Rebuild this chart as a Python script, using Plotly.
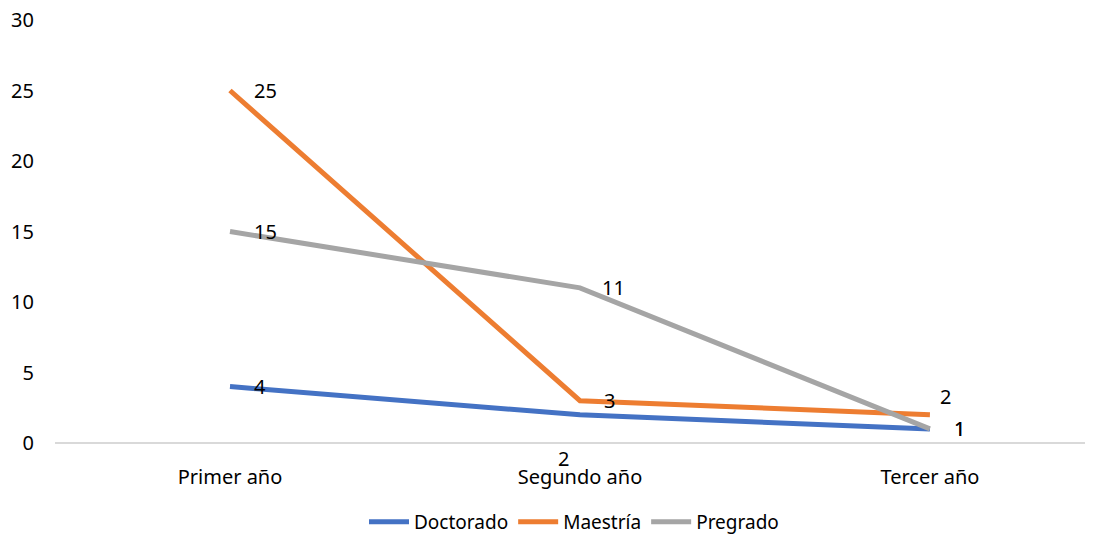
import plotly.graph_objects as go

# Data
categorias = ["Primer año", "Segundo año", "Tercer año"]
doctorado = [4, 2, 1]
maestria = [25, 3, 2]
pregrado = [15, 11, 1]
y_ticks = [0, 5, 10, 15, 20, 25, 30]

series = [
    ("Doctorado", doctorado, "#4472C4"),
    ("Maestría", maestria, "#ED7D31"),
    ("Pregrado", pregrado, "#A5A5A5"),
]

# label offsets (px) per point, Excel-like placement
offsets = {
    "Doctorado": [(22, 0), (-24, -44), (22, 0)],
    "Maestría": [(22, 0), (22, 0), (8, 18)],
    "Pregrado": [(22, 0), (20, 0), (22, 0)],
}

font = "Noto Sans"
fig = go.Figure()
annotations = []
for name, vals, color in series:
    fig.add_trace(go.Scatter(
        x=categorias, y=vals, name=name, mode="lines",
        line=dict(color=color, width=5),
    ))
    for cat, v, (dx, dy) in zip(categorias, vals, offsets[name]):
        annotations.append(dict(
            x=cat, y=v, text=str(v), showarrow=False,
            xanchor="left", yanchor="middle", xshift=dx, yshift=dy,
            font=dict(family=font, size=20, color="#000000"),
        ))

# the page body adds an 8px margin, so the figure is offset by 8px
fig.update_layout(
    width=1085, height=533,
    margin=dict(l=47, r=0, t=12, b=98, autoexpand=False),
    plot_bgcolor="white", paper_bgcolor="white",
    font=dict(family=font, size=20, color="#000000"),
    annotations=annotations,
    showlegend=True,
    legend=dict(orientation="h", x=0.5, xanchor="center", y=-0.2317, yanchor="bottom",
                font=dict(size=19), itemwidth=40, tracegroupgap=0),
)
fig.update_xaxes(
    range=[-0.5, 2.466], showgrid=False, showline=False, zeroline=False,
    ticks="", ticklabelstandoff=20, automargin=False, ticklabeloverflow="allow",
)
fig.update_yaxes(
    range=[0, 30], tickvals=y_ticks, showgrid=False, zeroline=True,
    zerolinecolor="#D9D9D9", zerolinewidth=1.5, showline=False,
    ticks="", ticklabelstandoff=20, automargin=False, ticklabeloverflow="allow",
)

fig.write_html("out.html")
